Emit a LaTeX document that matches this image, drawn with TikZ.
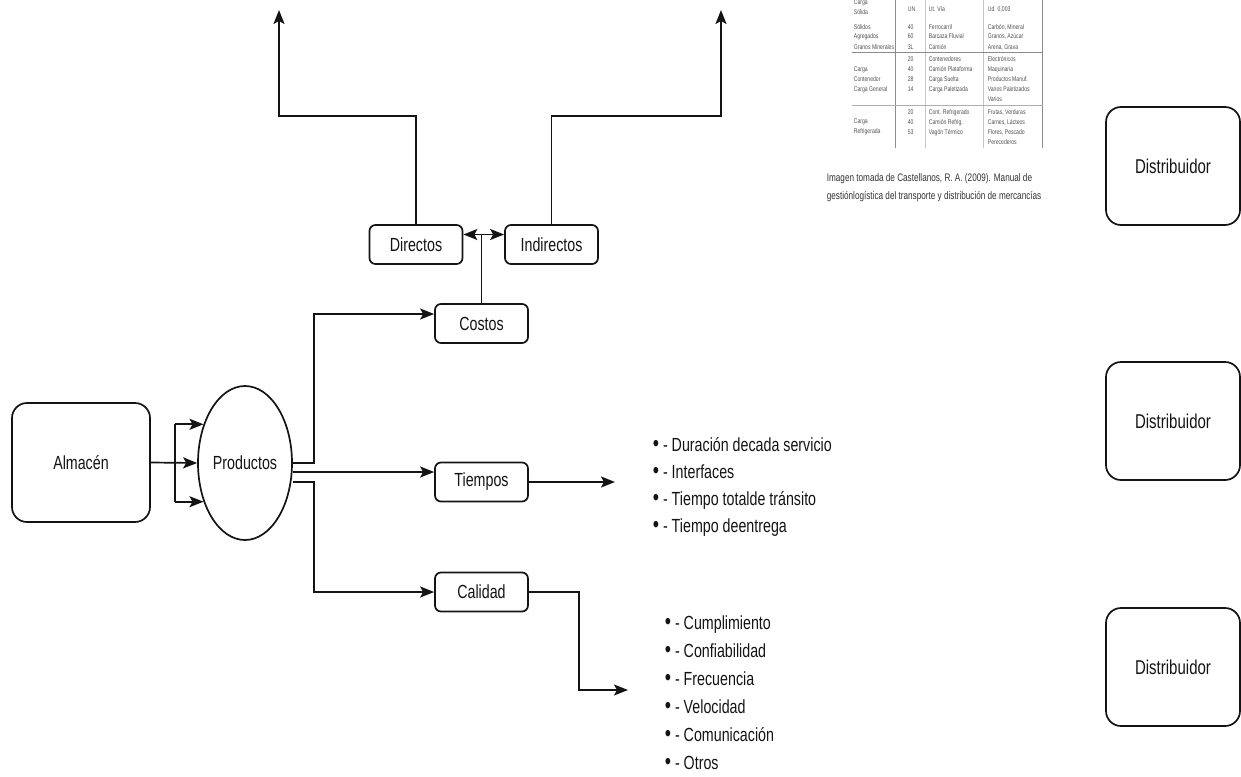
\documentclass[tikz,border=0pt]{standalone}
\usepackage{fontspec}
\setmainfont{Liberation Sans}
\newfontfamily\narrowfont{Liberation Sans}[FakeStretch=0.75]
\usetikzlibrary{shapes.geometric,arrows.meta,calc}
\definecolor{ink}{RGB}{20,20,20}
\definecolor{tabline}{RGB}{140,140,140}
\definecolor{tabtext}{RGB}{80,80,80}
\newcommand{\bul}{\scalebox{1.25}{•}}
\begin{document}
\begin{tikzpicture}[x=0.5pt,y=-0.5pt,
  line width=0.85pt, draw=ink,
  >={Stealth[length=7pt,width=5.5pt,inset=1.5pt]},
  lbl/.style={font=\narrowfont\fontsize{9.5}{11}\selectfont, text=ink},
  box/.style={lbl, draw, rounded corners=3pt, minimum width=46.5pt, minimum height=19.5pt, inner sep=0pt},
  bigbox/.style={lbl, draw, rounded corners=7.5pt, inner sep=0pt},
  distbox/.style={draw, rounded corners=7.5pt, inner sep=0pt, minimum width=67pt, minimum height=59pt, font=\narrowfont\fontsize{10}{12}\selectfont, text=ink},
  blist/.style={align=left, inner sep=0pt, anchor=base west, text=ink},
  tab/.style={anchor=base west, inner sep=0pt, font=\narrowfont\fontsize{3.4}{4}\selectfont, text=tabtext},
  tabrule/.style={draw=tabline, line width=0.5pt}
]
\useasboundingbox (0,0) rectangle (1241,776);

% ---------- main nodes ----------
\node[bigbox, minimum width=69pt, minimum height=59.5pt] (alm) at (81,462.5) {Almacén};
\node[lbl, ellipse, draw, minimum width=47pt, minimum height=77pt, inner sep=0pt] (prod) at (245,463) {Productos};
\node[box] (costos) at (481.5,323.5) {Costos};
\node[box] (tiempos) at (481.5,482) {Tiempos};
\node[box] (calidad) at (481.5,592) {Calidad};
\node[box] (directos) at (416,244.5) {Directos};
\node[box] (indirectos) at (551.5,244.5) {Indirectos};

\node[distbox] (d1) at (1173,166) {Distribuidor};
\node[distbox] (d2) at (1173,421) {Distribuidor};
\node[distbox] (d3) at (1173,667) {Distribuidor};

% ---------- lists (base = last line) ----------
\node[blist, font=\narrowfont\fontsize{9.5}{13.5}\selectfont] (tlist) at (652,532)
  {\bul{} - Duración decada servicio\\ \bul{} - Interfaces\\ \bul{} - Tiempo totalde tránsito\\ \bul{} - Tiempo deentrega};
\node[blist, font=\narrowfont\fontsize{9.5}{14}\selectfont] (clist) at (664,769)
  {\bul{} - Cumplimiento\\ \bul{} - Confiabilidad\\ \bul{} - Frecuencia\\ \bul{} - Velocidad\\ \bul{} - Comunicación\\ \bul{} - Otros};

% ---------- caption ----------
\node[blist, font=\narrowfont\fontsize{5.45}{9}\selectfont, text=black!80] (cap) at (826,199)
  {Imagen tomada de Castellanos, R. A. (2009). Manual de\\ gestiónlogística del transporte y distribución de mercancías};

% ---------- table image (faint) ----------
\draw[tabrule] (895,0) -- (895,148);
\draw[tabrule] (1042,0) -- (1042,148);
\draw[tabrule, draw=tabline!50] (925,0) -- (925,148);
\draw[tabrule, draw=tabline!50] (983,0) -- (983,148);
\draw[tabrule] (852,52) -- (1043,52);
\draw[tabrule, draw=tabline!70] (852,105) -- (1043,105);
\node[tab] (t11) at (853,4) {Carga};
\node[tab] (t12) at (853,14) {Sólida};
\node[tab] (t13) at (907,11) {UN};
\node[tab] (t14) at (928,11) {Ut. Vía};
\node[tab] (t15) at (987,11) {Ud. 0,003};
\node[tab, align=left] (t21) at (853,49) {Sólidos\\[1pt]Agregados\\[1pt]Granos Minerales};
\node[tab, align=left] (t22) at (907,49) {40\\[1pt]60\\[1pt]3L};
\node[tab, align=left] (t23) at (928,49) {Ferrocarril\\[1pt]Barcaza Fluvial\\[1pt]Camión};
\node[tab, align=left] (t24) at (987,49) {Carbón, Mineral\\[1pt]Granos, Azúcar\\[1pt]Arena, Grava};
\node[tab, align=left] (t31) at (853,91) {Carga\\[1pt]Contenedor\\[1pt]Carga General};
\node[tab, align=left] (t32) at (907,91) {20\\[1pt]40\\[1pt]28\\[1pt]14};
\node[tab, align=left] (t33) at (928,91) {Contenedores\\[1pt]Camión Plataforma\\[1pt]Carga Suelta\\[1pt]Carga Paletizada};
\node[tab, align=left] (t34) at (987,101) {Electrónicos\\[1pt]Maquinaria\\[1pt]Productos Manuf.\\[1pt]Varios Paletizados\\[1pt]Varios};
\node[tab, align=left] (t41) at (853,133) {Carga\\[1pt]Refrigerada};
\node[tab, align=left] (t42) at (907,134) {20\\[1pt]40\\[1pt]53};
\node[tab, align=left] (t43) at (928,134) {Cont. Refrigerado\\[1pt]Camión Refrig.\\[1pt]Vagón Térmico};
\node[tab, align=left] (t44) at (987,144) {Frutas, Verduras\\[1pt]Carnes, Lácteos\\[1pt]Flores, Pescado\\[1pt]Perecederos};

% ---------- connectors ----------
\coordinate (br) at (175,0);
\draw[->] (alm.east) -- (prod.west);
\draw (br |- prod.137) -- (br |- prod.223);
\draw[->] (br |- prod.137) -- (prod.137);
\draw[->] (br |- prod.223) -- (prod.223);

\coordinate (jx) at (314,0);
\coordinate (p1) at (prod.east);
\coordinate (p2) at ($(prod.east)+(0,9)$);
\coordinate (p3) at ($(prod.east)+(0,19)$);
\draw[->] (p1) -- (jx |- p1) |- ($(costos.west)+(0,-9.5)$);
\draw[->] (p2) -- (p2 -| tiempos.west);
\draw[->] (p3) -- (jx |- p3) |- (calidad.west);

\coordinate (dd) at (0,234.5);
\draw (costos.north) -- (costos.north |- dd);
\draw[<->] (directos.east |- dd) -- (indirectos.west |- dd);

\coordinate (h1) at (0,116);
\coordinate (t1) at (279,10);
\coordinate (t2) at (721,10);
\draw[->] (directos.north) -- (directos.north |- h1) -| (t1);
\draw[->] (indirectos.north) -- (indirectos.north |- h1) -| (t2);

\coordinate (t3) at (615,482);
\draw[->] (tiempos.east) -- (t3);
\coordinate (t4) at (628,690);
\draw[->] (calidad.east) -- ++(50,0) |- (t4);
\end{tikzpicture}
\end{document}
